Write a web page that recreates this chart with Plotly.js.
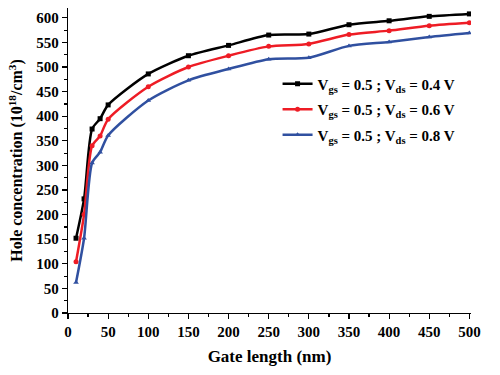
<!DOCTYPE html>
<html>
<head>
<meta charset="utf-8">
<script src="https://cdn.plot.ly/plotly-3.0.1.min.js"></script>
<style>html,body{margin:0;padding:0;background:#fff}#chart{width:500px;height:375px}</style>
</head>
<body>
<div id="chart"></div>
<script>
var gateLength = [10, 20, 30, 40, 50, 100, 150, 200, 250, 300, 350, 400, 450, 500];
var holeVds04 = [152, 232, 374, 395, 423, 486, 523, 544, 565, 567, 586, 594, 603, 608];
var holeVds06 = [104, 200, 340, 360, 394, 460, 500, 523, 542, 547, 566, 574, 584, 590];
var holeVds08 = [62, 152, 305, 327, 361, 432, 473, 496, 516, 519, 543, 551, 561, 569];
var seriesNames = [
  'V<sub>gs</sub> = 0.5 ; V<sub>ds</sub> = 0.4 V',
  'V<sub>gs</sub> = 0.5 ; V<sub>ds</sub> = 0.6 V',
  'V<sub>gs</sub> = 0.5 ; V<sub>ds</sub> = 0.8 V'
];

var fontFam = '"Liberation Serif", "Times New Roman", serif';
function tr(y, name, color, sym, grp) {
  return {
    x: gateLength, y: y, name: name, legendgroup: grp, type: 'scatter', mode: 'lines+markers',
    line: {color: color, width: 2.5, shape: 'spline', smoothing: 0.7},
    marker: {color: color, symbol: sym, size: 5}
  };
}
var data = [
  tr(holeVds04, seriesNames[0], '#000000', 'square', 'a'),
  tr(holeVds06, seriesNames[1], '#ee1c25', 'circle', 'b'),
  tr(holeVds08, seriesNames[2], '#3050a0', 'triangle-up', 'c')
];
var axFont = {family: fontFam, size: 15, color: '#000', weight: 'bold'};
var layout = {
  width: 500, height: 375,
  margin: {l: 68, r: 29, t: 8, b: 62},
  paper_bgcolor: '#fff', plot_bgcolor: '#fff',
  showlegend: true,
  legend: {x: 0.52, y: 0.805, xanchor: 'left', yanchor: 'top', bgcolor: 'rgba(0,0,0,0)',
    font: {family: fontFam, size: 15, color: '#000', weight: 'bold'}, tracegroupgap: 3},
  xaxis: {
    range: [0, 502], tickmode: 'linear', tick0: 0, dtick: 50,
    showgrid: false, zeroline: false, showline: true, linecolor: '#000', linewidth: 1.2,
    ticks: 'outside', ticklen: 5, tickcolor: '#000', tickwidth: 1.2,
    minor: {dtick: 25, ticks: 'outside', ticklen: 3, tickcolor: '#000', showgrid: false},
    tickfont: axFont,
    title: {text: 'Gate length (nm)', font: {family: fontFam, size: 17, color: '#000', weight: 'bold'}, standoff: 10}
  },
  yaxis: {
    range: [0, 620], tickmode: 'linear', tick0: 0, dtick: 50,
    showgrid: false, zeroline: false, showline: true, linecolor: '#000', linewidth: 1.2,
    ticks: 'outside', ticklen: 5, tickcolor: '#000', tickwidth: 1.2,
    minor: {dtick: 25, ticks: 'outside', ticklen: 3, tickcolor: '#000', showgrid: false},
    tickfont: axFont,
    title: {text: 'Hole concentration (10<sup>18</sup>/cm<sup>3</sup>)', font: {family: fontFam, size: 16, color: '#000', weight: 'bold'}, standoff: 9}
  }
};
Plotly.newPlot('chart', data, layout, {displayModeBar: false, staticPlot: true});
</script>
</body>
</html>
